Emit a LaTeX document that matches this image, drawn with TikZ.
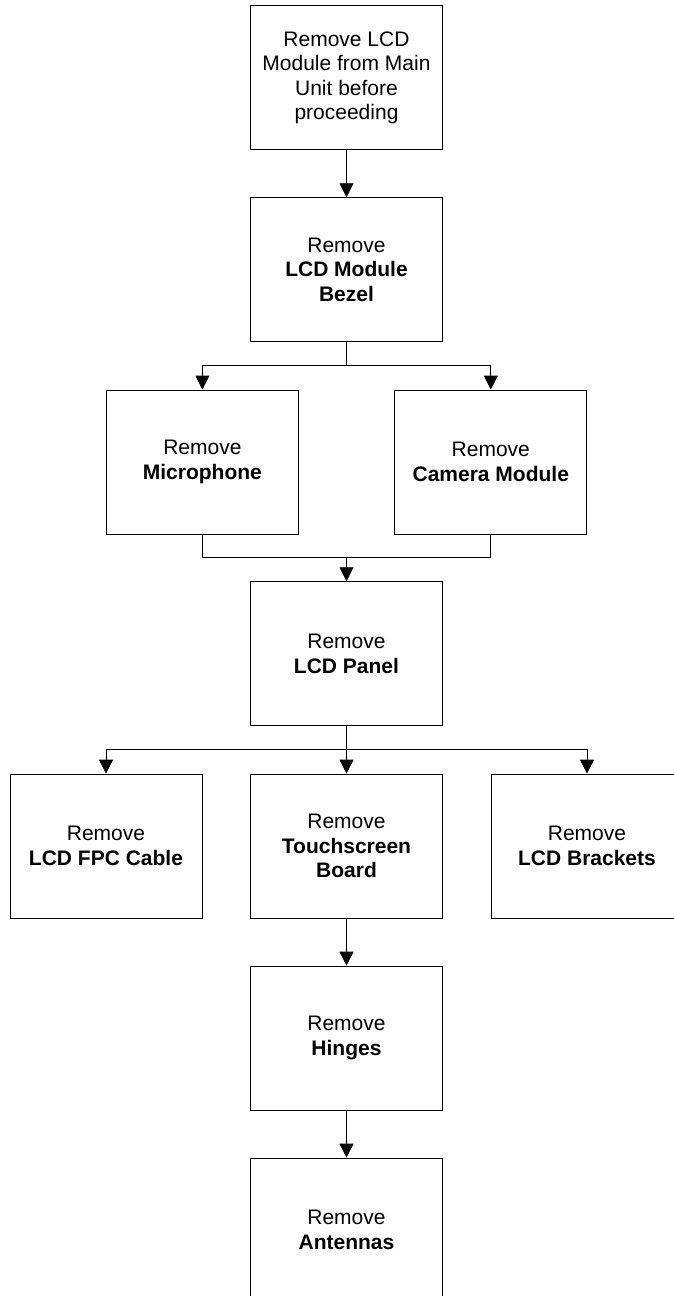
\documentclass[tikz,border=0pt]{standalone}
\usepackage{fontspec}
\setmainfont{Liberation Sans}
\usetikzlibrary{arrows.meta, positioning, calc}

\begin{document}
\begin{tikzpicture}[x=1pt, y=1pt,
        stepbox/.style={draw, line width=0.8pt, minimum width=192pt, minimum height=144pt,
            inner sep=0pt, align=center, font=\fontsize{21}{24.5}\selectfont},
        flow/.style={line width=0.8pt, -{Triangle[length=14pt, width=14pt]}},
        link/.style={line width=0.8pt}]
            \useasboundingbox (0,0) rectangle (673,-1296);
            \node[stepbox] (lcdmod) at (346.5,-77.7) {Remove LCD\\Module from Main\\Unit before\\proceeding};
            \node[stepbox] (bezel) at (346.5,-269.7) {Remove\\\textbf{LCD Module}\\\textbf{Bezel}};
            \node[stepbox] (mic) at (202.4,-462) {Remove\\\textbf{Microphone}};
            \node[stepbox] (camera) at (490.8,-462) {Remove\\\textbf{Camera Module}};
            \node[stepbox] (panel) at (346.5,-653.7) {Remove\\\textbf{LCD Panel}};
            \node[stepbox] (fpc) at (106,-846) {Remove\\\textbf{LCD FPC Cable}};
            \node[stepbox] (touch) at (346.5,-846) {Remove\\\textbf{Touchscreen}\\\textbf{Board}};
            \node[stepbox] (brackets) at (587,-846) {Remove\\\textbf{LCD Brackets}};
            \node[stepbox] (hinges) at (346.5,-1038) {Remove\\\textbf{Hinges}};
            \node[stepbox] (antennas) at (346.5,-1230) {Remove\\\textbf{Antennas}};
            % junction points
            \coordinate (split1) at (346.5,-365);
            \coordinate (join1) at (346.5,-557.7);
            \coordinate (split2) at (346.5,-749.7);
            \draw[flow] (lcdmod) -- (bezel);
            \draw[link] (bezel) -- (split1);
            \draw[flow] (split1) -| (mic);
            \draw[flow] (split1) -| (camera);
            \draw[link] (mic) |- (join1) -| (camera);
            \draw[flow] (join1) -- (panel);
            \draw[link] (panel) -- (split2);
            \draw[flow] (split2) -| (fpc);
            \draw[flow] (split2) -- (touch);
            \draw[flow] (split2) -| (brackets);
            \draw[flow] (touch) -- (hinges);
            \draw[flow] (hinges) -- (antennas);
        \end{tikzpicture}
\end{document}
